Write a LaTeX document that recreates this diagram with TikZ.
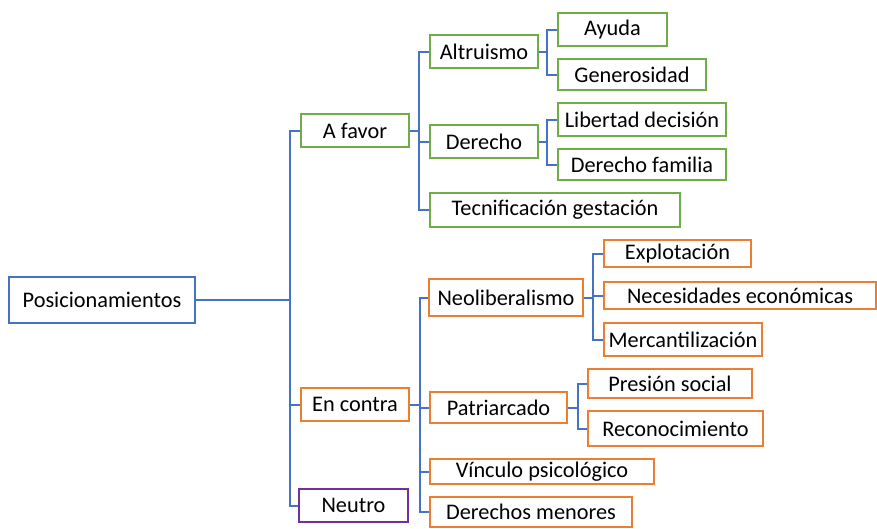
\documentclass[tikz,border=0pt]{standalone}
\usepackage{fontspec}
\setmainfont{Carlito}
\definecolor{lblue}{HTML}{4472C4}
\definecolor{lgreen}{HTML}{70AD47}
\definecolor{lorange}{HTML}{ED7D31}
\definecolor{lpurple}{HTML}{7030A0}
\begin{document}
\begin{tikzpicture}[x=1pt,y=-1pt,
  box/.style={draw,line width=2.2pt,fill=white,inner sep=0pt,text=black,
    font=\fontsize{22.3}{26}\selectfont},
  gbox/.style={box,draw=lgreen},
  obox/.style={box,draw=lorange},
  bbox/.style={box,draw=lblue,line width=1.8pt},
  pbox/.style={box,draw=lpurple},
  conn/.style={draw=lblue,line width=2pt}]
\useasboundingbox (0,0) rectangle (877,528);
% nodes
\node[bbox,minimum width=186,minimum height=46] (pos) at (102,300) {Posicionamientos};
\node[gbox,minimum width=108,minimum height=33] (afavor) at (355,130.5) {A favor};
\node[obox,minimum width=108,minimum height=33] (encontra) at (355,404.5) {En contra};
\node[pbox,minimum width=109,minimum height=33] (neutro) at (353.5,505.5) {Neutro};
\node[gbox,minimum width=108,minimum height=33] (altruismo) at (484,51.5) {Altruismo};
\node[gbox,minimum width=108,minimum height=33] (derecho) at (484,141.5) {Derecho};
\node[gbox,minimum width=250,minimum height=34] (tecnif) at (555,210) {Tecnificación gestación};
\node[gbox,minimum width=109,minimum height=33] (ayuda) at (612.5,29.5) {Ayuda};
\node[gbox,minimum width=148,minimum height=31] (generos) at (632,74.5) {Generosidad};
\node[gbox,minimum width=168,minimum height=33] (libertad) at (642,119.5) {Libertad decisión};
\node[gbox,minimum width=168,minimum height=31] (derfam) at (642,164.5) {Derecho familia};
\node[obox,minimum width=154,minimum height=37] (neolib) at (506,297.5) {Neoliberalismo};
\node[obox,minimum width=137,minimum height=31] (patri) at (498.5,407.5) {Patriarcado};
\node[obox,minimum width=224,minimum height=25] (vinculo) at (542,471.5) {Vínculo psicológico};
\node[obox,minimum width=202,minimum height=30] (dermen) at (531,512) {Derechos menores};
\node[obox,minimum width=147,minimum height=27] (explot) at (677.5,253.5) {Explotación};
\node[obox,minimum width=272,minimum height=27] (necesid) at (740,295.5) {Necesidades económicas};
\node[obox,minimum width=158,minimum height=33] (mercant) at (683,339.5) {Mercantilización};
\node[obox,minimum width=164,minimum height=29] (presion) at (670,383.5) {Presión social};
\node[obox,minimum width=175,minimum height=35] (reconoc) at (675.5,428.5) {Reconocimiento};
% junction coordinates
\coordinate (t0) at (290,300);
\coordinate (t1) at (419,130.5);
\coordinate (t2) at (420,404.5);
\coordinate (t3) at (547,51.5);
\coordinate (t4) at (547,141.5);
\coordinate (t5) at (593,297.5);
\coordinate (t6) at (578,407.5);
% connectors
\draw[conn] (pos.east) -- (t0);
\draw[conn] (t0) |- (afavor.west);
\draw[conn] (t0) |- (encontra.west);
\draw[conn] (t0) |- (neutro.west);
\draw[conn] (afavor.east) -- (t1);
\draw[conn] (t1) |- (altruismo.west);
\draw[conn] (t1) |- (derecho.west);
\draw[conn] (t1) |- (tecnif.west);
\draw[conn] (altruismo.east) -- (t3);
\draw[conn] (t3) |- (ayuda.west);
\draw[conn] (t3) |- (generos.west);
\draw[conn] (derecho.east) -- (t4);
\draw[conn] (t4) |- (libertad.west);
\draw[conn] (t4) |- (derfam.west);
\draw[conn] (encontra.east) -- (t2);
\draw[conn] (t2) |- (neolib.west);
\draw[conn] (t2) |- (patri.west);
\draw[conn] (t2) |- (vinculo.west);
\draw[conn] (t2) |- (dermen.west);
\draw[conn] (neolib.east) -- (t5);
\draw[conn] (t5) |- (explot.west);
\draw[conn] (t5) |- (necesid.west);
\draw[conn] (t5) |- (mercant.west);
\draw[conn] (patri.east) -- (t6);
\draw[conn] (t6) |- (presion.west);
\draw[conn] (t6) |- (reconoc.west);
\end{tikzpicture}
\end{document}
